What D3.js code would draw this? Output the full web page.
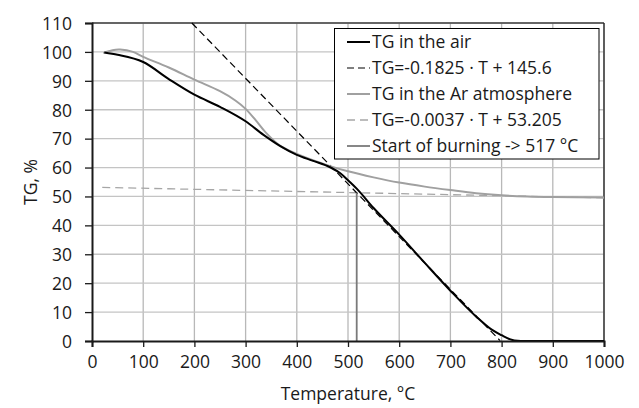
<!DOCTYPE html>
<html><head><meta charset="utf-8">
<script src="https://cdn.jsdelivr.net/npm/d3@7"></script>
<style>body{margin:0;background:#fff}svg{display:block}text{font-family:"Open Sans",sans-serif;fill:#1a1a1a}</style>
</head><body><svg id="c" width="639" height="408"></svg>
<script>
const xTicks=[0,100,200,300,400,500,600,700,800,900,1000];
const yTicks=[0,10,20,30,40,50,60,70,80,90,100,110];
const airT=[24,50,100,150,200,250,300,335,367,400,432,465,485,500,517,550,600,650,700,750,780,800,815,825,850,900,1000];
const airTG=[99.8,99.0,96.5,90.6,85.2,81.0,76.0,71.3,67.5,64.4,62.3,60.1,58.0,55.6,52.7,46.0,36.8,27.0,17.4,8.5,4.0,2.0,0.7,0.2,0,0,0];
const arT=[22,40,55,80,100,150,200,250,280,300,320,340,367,400,465,500,550,600,650,700,750,800,850,900,1000];
const arTG=[99.6,100.6,100.8,100.0,98.3,94.6,90.4,86.4,83.2,80.3,76.3,72.0,67.6,64.7,60.5,58.7,56.6,54.8,53.4,52.2,51.1,50.4,50.0,49.8,49.6];
const fitAir={a:-0.1825,b:145.6,t0:195,t1:797};
const fitAr={a:-0.0037,b:53.205,t0:20,t1:1000};
const burnT=517;
const legendLabels=["TG in the air","TG=-0.1825 \u00b7 T + 145.6","TG in the Ar atmosphere","TG=-0.0037 \u00b7 T + 53.205","Start of burning -> 517 \u00b0C"];

const svg=d3.select("#c");
const x=d3.scaleLinear().domain([0,1000]).range([92,604]);
const y=d3.scaleLinear().domain([0,110]).range([341,23]);
const g=svg.append("g");
g.selectAll(".gx").data(xTicks.slice(1)).join("line").attr("x1",d=>x(d)).attr("x2",d=>x(d)).attr("y1",y(0)).attr("y2",y(110)).attr("stroke","#b8b8b8").attr("stroke-width",1.3);
g.selectAll(".gy").data(yTicks.slice(1)).join("line").attr("x1",x(0)).attr("x2",x(1000)).attr("y1",d=>y(d)).attr("y2",d=>y(d)).attr("stroke","#c4c4c4").attr("stroke-width",1.3);
g.append("line").attr("x1",x(0)).attr("x2",x(1000)).attr("y1",y(110)).attr("y2",y(110)).attr("stroke","#404040").attr("stroke-width",1.3);
g.append("line").attr("x1",x(1000)).attr("x2",x(1000)).attr("y1",y(0)).attr("y2",y(110)).attr("stroke","#202020").attr("stroke-width",1.3);

const line=d3.line().x(d=>x(d[0])).y(d=>y(d[1])).curve(d3.curveMonotoneX);
const smooth=d3.line().x(d=>x(d[0])).y(d=>y(d[1])).curve(d3.curveCatmullRom.alpha(0.5));
g.append("path").attr("d",line([[fitAr.t0,fitAr.a*fitAr.t0+fitAr.b],[fitAr.t1,fitAr.a*fitAr.t1+fitAr.b]])).attr("stroke","#a6a6a6").attr("stroke-width",1.3).attr("stroke-dasharray","8,5").attr("fill","none");
g.append("path").attr("d",line([[fitAir.t0,fitAir.a*fitAir.t0+fitAir.b],[fitAir.t1,fitAir.a*fitAir.t1+fitAir.b]])).attr("stroke","#000").attr("stroke-width",1.2).attr("stroke-dasharray","7,4").attr("fill","none");
g.append("line").attr("x1",x(burnT)).attr("x2",x(burnT)).attr("y1",y(0)).attr("y2",y(fitAr.a*burnT+fitAr.b)).attr("stroke","#7a7a7a").attr("stroke-width",1.8);
g.append("path").attr("d",smooth(arT.map((t,i)=>[t,arTG[i]]))).attr("stroke","#a0a0a0").attr("stroke-width",2).attr("fill","none");
g.append("path").attr("d",line(airT.map((t,i)=>[t,airTG[i]]))).attr("stroke","#000").attr("stroke-width",2).attr("fill","none");

const xa=svg.append("g").attr("transform",`translate(0,${y(0)})`).call(d3.axisBottom(x).tickValues(xTicks).tickSize(6).tickPadding(9).tickFormat(d3.format("d")));
const ya=svg.append("g").attr("transform",`translate(${x(0)},0)`).call(d3.axisLeft(y).tickValues(yTicks).tickSize(7).tickPadding(13).tickFormat(d3.format("d")));
[xa,ya].forEach(a=>{a.select(".domain").attr("stroke","#1a1a1a").attr("stroke-width",2);a.selectAll(".tick line").attr("stroke","#1a1a1a").attr("stroke-width",1.3);a.selectAll("text").style("font-size","17.5px").attr("fill","#1a1a1a");});
ya.selectAll("text").attr("dy","0.36em");

svg.append("text").attr("x",348).attr("y",400).attr("text-anchor","middle").style("font-size","17.5px").text("Temperature, \u00b0C");
svg.append("text").attr("transform","translate(31,182) rotate(-90)").attr("text-anchor","middle").attr("dy","0.36em").style("font-size","17.5px").text("TG, %");

const lg=svg.append("g");
lg.append("rect").attr("x",334.5).attr("y",28.5).attr("width",264.5).attr("height",130.5).attr("fill","#fff").attr("stroke","#000").attr("stroke-width",1);
const styles=[{c:"#000",d:null,w:2},{c:"#000",d:"7,4",w:1.2},{c:"#a0a0a0",d:null,w:2},{c:"#a6a6a6",d:"8,5",w:1.3},{c:"#7a7a7a",d:null,w:1.8}];
const rowY=[42,68,94,120,146];
legendLabels.forEach((s,i)=>{
  lg.append("line").attr("x1",347).attr("x2",370).attr("y1",rowY[i]).attr("y2",rowY[i]).attr("stroke",styles[i].c).attr("stroke-width",styles[i].w).attr("stroke-dasharray",styles[i].d);
  lg.append("text").attr("x",372).attr("y",rowY[i]).attr("dy","0.36em").style("font-size","17.5px").text(s);
});
</script></body></html>
